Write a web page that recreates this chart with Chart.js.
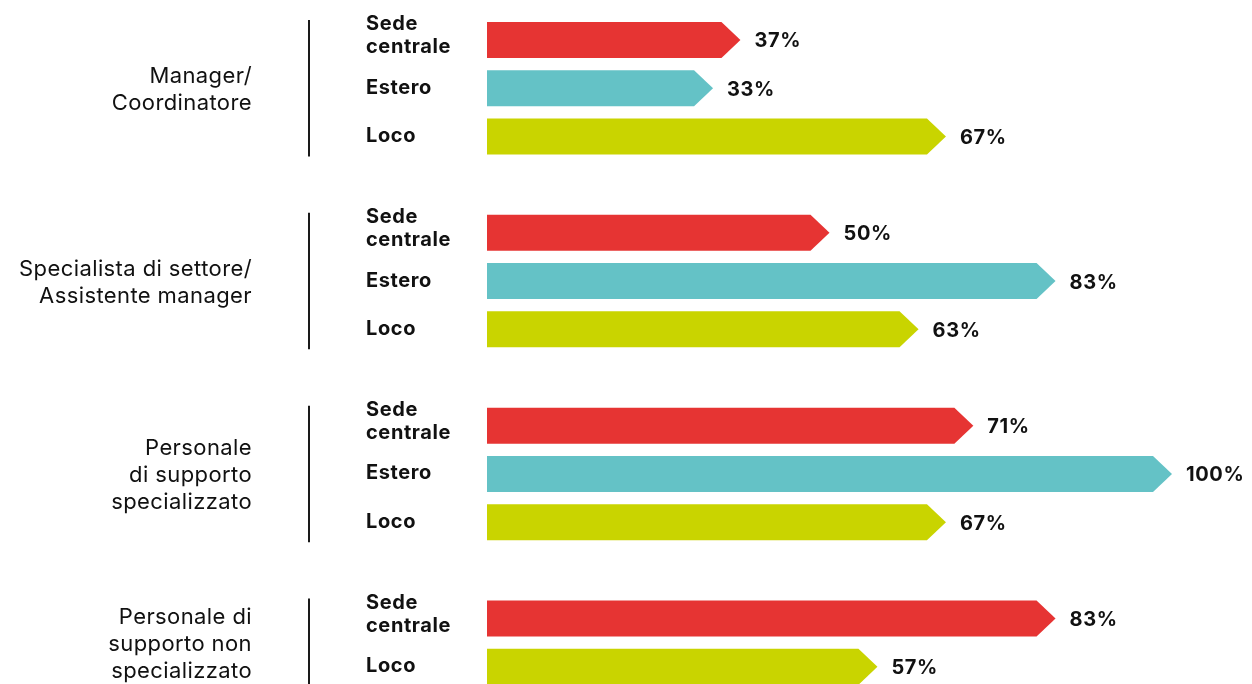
<!DOCTYPE html>
<html>
<head>
<meta charset="utf-8">
<script src="https://cdn.jsdelivr.net/npm/chart.js@4/dist/chart.umd.min.js"></script>
<style>
  html, body { margin: 0; padding: 0; background: #fff; }
  #wrap { width: 1252px; height: 684px; position: relative; }
</style>
</head>
<body>
<div id="wrap"><canvas id="ruoliChart"></canvas></div>
<script>
// ruoli e percentuali per sede
const gruppi = [
    ['Manager/', 'Coordinatore'],
    ['Specialista di settore/', 'Assistente manager'],
    ['Personale', 'di supporto', 'specializzato'],
    ['Personale di', 'supporto non', 'specializzato']
];
const serieNomi = [['Sede', 'centrale'], ['Estero'], ['Loco']];
const serieColori = ['#e63433', '#64c2c6', '#c9d400'];
const sedeCentrale = [37, 50, 71, 83];
const estero = [33, 83, 100, null];
const loco = [67, 63, 67, 57];

const FONT = 'Inter, "Noto Sans", sans-serif';
const TESTO = '#111111';

// ogni gruppo occupa 4 righe (3 barre + spazio), le barre nulle vengono saltate
const valori = [sedeCentrale, estero, loco];
const righeGruppo = [];
const datasets = valori.map((serie, s) => ({
    label: serieNomi[s].join(' '),
    data: [],
    backgroundColor: serieColori[s],
    serieIndex: s
}));
gruppi.forEach((g, gi) => {
    let riga = gi * 4;
    const righe = [];
    valori.forEach((serie, s) => {
        if (serie[gi] == null) return;
        datasets[s].data.push({ x: serie[gi], y: riga });
        righe.push(riga);
        riga++;
    });
    righeGruppo.push(righe);
});

// disegna le barre a freccia, le etichette e le linee dei gruppi
const frecce = {
    id: 'frecce',
    beforeDatasetDraw() { return false; },
    afterDraw(chart) {
        const ctx = chart.ctx;
        const yScale = chart.scales.y;
        ctx.save();
        ctx.textBaseline = 'alphabetic';

        chart.data.datasets.forEach((ds, di) => {
            const meta = chart.getDatasetMeta(di);
            meta.data.forEach((bar, i) => {
                const p = bar.getProps(['x', 'y', 'base', 'height'], true);
                const h = p.height, top = p.y - h / 2, punta = 19;
                ctx.fillStyle = ds.backgroundColor;
                ctx.beginPath();
                ctx.moveTo(p.base, top);
                ctx.lineTo(p.x - punta, top);
                ctx.lineTo(p.x, p.y);
                ctx.lineTo(p.x - punta, top + h);
                ctx.lineTo(p.base, top + h);
                ctx.closePath();
                ctx.fill();

                // valore percentuale
                ctx.fillStyle = TESTO;
                ctx.font = 'bold 20px ' + FONT;
                ctx.letterSpacing = '0.6px';
                ctx.textAlign = 'left';
                ctx.fillText(ds.data[i].x + '%', p.x + 14, p.y + 7.5);

                // nome della serie
                const righe = serieNomi[ds.serieIndex];
                if (righe.length > 1) {
                    ctx.fillText(righe[0], 366, p.y - 10);
                    ctx.fillText(righe[1], 366, p.y + 13);
                } else {
                    ctx.fillText(righe[0], 366, p.y + 5.5);
                }
            });
        });

        // etichette dei gruppi e linea verticale
        righeGruppo.forEach((righe, gi) => {
            const y0 = yScale.getPixelForValue(righe[0]);
            const y1 = yScale.getPixelForValue(righe[righe.length - 1]);
            ctx.strokeStyle = '#1a1a1a';
            ctx.lineWidth = 2;
            ctx.beginPath();
            ctx.moveTo(309, y0 - 20);
            ctx.lineTo(309, y1 + 20);
            ctx.stroke();

            const c = (y0 + y1) / 2;
            const linee = gruppi[gi];
            ctx.fillStyle = TESTO;
            ctx.font = '22px ' + FONT;
            ctx.letterSpacing = '0.4px';
            ctx.textAlign = 'right';
            linee.forEach((t, k) => {
                ctx.fillText(t, 252, c + 8 + (k - (linee.length - 1) / 2) * 27);
            });
        });
        ctx.restore();
    }
};

const canvas = document.getElementById('ruoliChart');
new Chart(canvas, {
    type: 'bar',
    data: { datasets: datasets },
    options: {
        indexAxis: 'y',
        responsive: true,
        maintainAspectRatio: false,
        animation: false,
        layout: { padding: { left: 487, right: 80, top: 0, bottom: 0 } },
        datasets: { bar: { barThickness: 36, grouped: false } },
        scales: {
            x: { type: 'linear', min: 0, max: 100, display: false },
            y: { type: 'linear', reverse: true, offset: false, min: -0.8295, max: 13.356, display: false }
        },
        plugins: { legend: { display: false }, tooltip: { enabled: false } }
    },
    plugins: [frecce]
});
</script>
</body>
</html>
